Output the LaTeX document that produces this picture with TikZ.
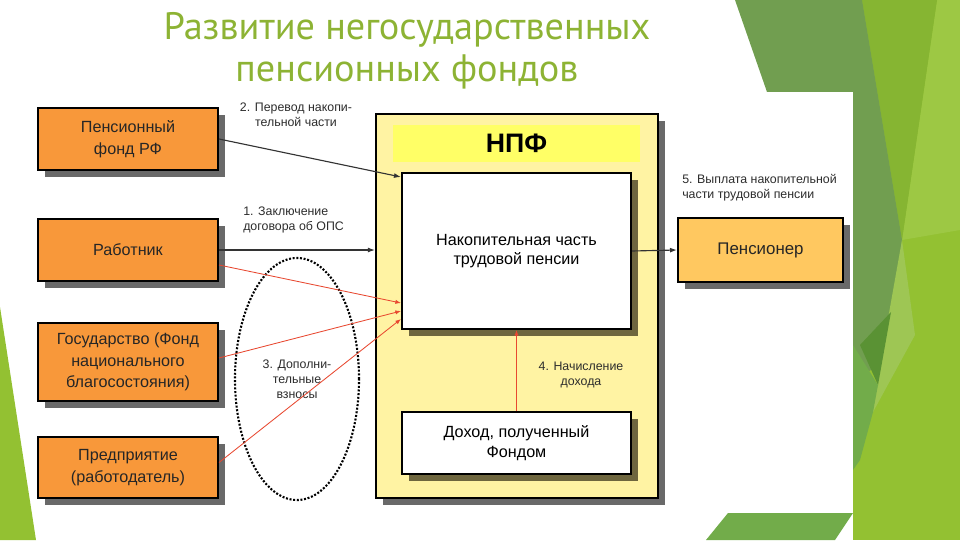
\documentclass[tikz,border=0pt]{standalone}
\usepackage{fontspec}
\setmainfont{Liberation Sans}
\newfontfamily\titlefont{PT Sans}
\usetikzlibrary{arrows.meta,shadows,shapes.geometric,calc}

\definecolor{titlegreen}{RGB}{141,179,52}
\definecolor{facetbase}{RGB}{147,193,50}
\definecolor{facetlight}{RGB}{157,200,68}
\definecolor{facetlime}{RGB}{134,181,50}
\definecolor{facetdark}{RGB}{113,158,80}
\definecolor{facetdeep}{RGB}{90,146,52}
\definecolor{facetpale}{RGB}{158,198,84}
\definecolor{facetmid}{RGB}{114,172,74}
\definecolor{boxorange}{RGB}{248,152,58}
\definecolor{pensorange}{RGB}{255,200,96}
\definecolor{npfyellow}{RGB}{255,243,163}
\definecolor{headyellow}{RGB}{255,255,102}
\definecolor{shadowgray}{RGB}{105,105,105}
\definecolor{shadowolive}{RGB}{110,102,62}
\definecolor{flowred}{RGB}{232,72,48}
\definecolor{labelgray}{RGB}{45,45,45}

\tikzset{
  boxshadow/.style={drop shadow={shadow xshift=5pt,shadow yshift=-5pt,
    fill=#1,opacity=1}},
  partybox/.style={draw=black,line width=1.4pt,fill=boxorange,
    boxshadow=shadowgray,minimum width=4.5cm,align=center,inner sep=2pt,
    text=black!85,font=\fontsize{11.5}{15.5}\selectfont},
  fundbox/.style={draw=black,line width=1.4pt,fill=white,
    boxshadow=shadowolive,minimum width=5.725cm,align=center,
    font=\fontsize{11.5}{14}\selectfont},
  steplabel/.style={text=labelgray,font=\fontsize{8.8}{10.7}\selectfont,
    inner sep=0pt},
  flow/.style={-{Latex[length=5pt,width=3.5pt]},line width=0.8pt,black!80},
  redflow/.style={-{Latex[length=4pt,width=3pt]},line width=0.6pt,flowred},
}

\begin{document}
\begin{tikzpicture}[x=0.025cm,y=-0.025cm]
\useasboundingbox (0,0) rectangle (960,540);
% slide decoration
\fill[facetbase] (853,0) rectangle (960,540);
\fill[facetlight] (937,0) -- (960,0) -- (960,230) -- (902,240) -- cycle;
\fill[facetlime] (862,0) -- (937,0) -- (902,240) -- cycle;
\fill[facetdark] (735,0) -- (862,0) -- (902,240) -- (890,330) -- (880,365)
  -- (853,380) -- (853,92) -- (767,92) -- cycle;
\fill[facetpale] (902,240) -- (915,335) -- (873,412) -- (886,330) -- cycle;
\fill[facetdeep] (860,345) -- (891,312) -- (878,385) -- cycle;
\fill[facetmid] (853,345) -- (878,385) -- (873,412) -- (860,460)
  -- (853,470) -- cycle;
\fill[facetmid] (706,540) -- (728,513) -- (853,513) -- (835,540) -- cycle;
\fill[facetbase] (0,307) -- (36,540) -- (0,540) -- cycle;
\fill[white] (36,92) rectangle (853,513);

\node[font=\titlefont\fontsize{27.2}{29.9}\selectfont,text=titlegreen,
  align=center] (title) at (407,51)
  {Развитие негосударственных\\пенсионных фондов};

% participants
\node[partybox,minimum height=1.55cm] (pfr) at (128,139) {Пенсионный\\фонд РФ};
\node[partybox,minimum height=1.55cm] (worker) at (128,250) {Работник};
\node[partybox,minimum height=1.95cm] (state) at (128,362)
  {Государство (Фонд\\национального\\благосостояния)};
\node[partybox,minimum height=1.525cm] (employer) at (128,467.5)
  {Предприятие\\(работодатель)};

% fund
\node[draw=black,line width=1.4pt,fill=npfyellow,boxshadow=shadowgray,
  minimum width=7.05cm,minimum height=9.6cm] (npf) at (517,306) {};
\node[fill=headyellow,minimum width=6.175cm,minimum height=0.925cm,
  font=\bfseries\fontsize{19}{19}\selectfont] (npfhead) at (516.5,143.5) {НПФ};
\node[fundbox,minimum height=3.9cm] (savings) at (516.5,251)
  {Накопительная часть\\трудовой пенсии};
\node[fundbox,minimum height=1.55cm] (income) at (516.5,443)
  {Доход, полученный\\Фондом};

\node[partybox,fill=pensorange,minimum width=4.125cm,minimum height=1.6cm,
  font=\fontsize{12}{14}\selectfont] (pensioner) at (760.5,250) {Пенсионер};

\node[ellipse,draw=black,line width=1.5pt,dash pattern=on 1.4pt off 1.2pt,
  minimum width=3.1cm,minimum height=6.05cm,steplabel,align=center]
  (extra) at (297,379) {3. Дополни-\\тельные\\взносы};

% step labels
\node[steplabel,align=center] (lblpfr) at (296,115)
  {2. Перевод накопи-\\тельной части};
\node[steplabel,align=left,anchor=west] (lblworker) at (243,220)
  {1. Заключение\\договора об ОПС};
\node[steplabel,align=center] (lblincome) at (581,375)
  {4. Начисление\\дохода};
\node[steplabel,align=left,anchor=west] (lblpens) at (682,188)
  {5. Выплата накопительной\\части трудовой пенсии};

% flows
\draw[flow] (pfr.east) -- ($(savings.north west)+(0,5)$);
\draw[flow] (worker.east) -- (worker.east -| npf.west);
\draw[flow] (savings.east) -- (pensioner.west);
\draw[redflow] ($(worker.east)+(0,15)$) -- ($(savings.south west)+(0,-27)$);
\draw[redflow] ($(state.east)+(0,-4)$) -- ($(savings.south west)+(0,-19)$);
\draw[redflow] ($(employer.east)+(0,-5)$) -- ($(savings.south west)+(0,-11)$);
\draw[redflow] (income.north) -- (savings.south);
\end{tikzpicture}
\end{document}
